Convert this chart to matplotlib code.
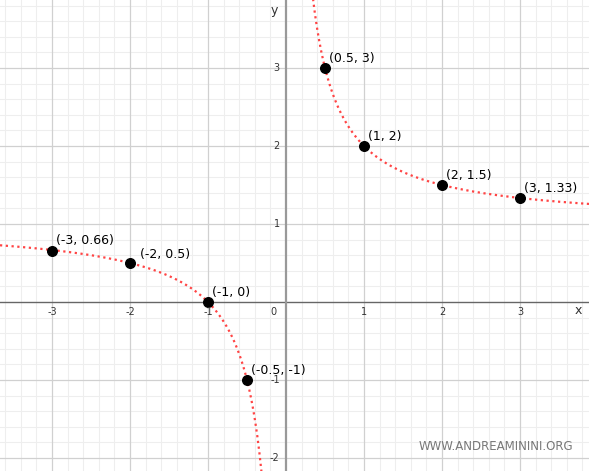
import numpy as np
import matplotlib
matplotlib.use("Agg")
import matplotlib.pyplot as plt

# Data: points of y = 1 + 1/x shown in the chart
px = [-3, -2, -1, -0.5, 0.5, 1, 2, 3]
py = [0.66, 0.5, 0, -1, 3, 2, 1.5, 1.33]
plabels = ["(-3, 0.66)", "(-2, 0.5)", "(-1, 0)", "(-0.5, -1)",
           "(0.5, 3)", "(1, 2)", "(2, 1.5)", "(3, 1.33)"]
xticks = [-3, -2, -1, 1, 2, 3]
yticks = [-2, -1, 1, 2, 3]

xmin, xmax = -286/78, (589-286)/78
ymin, ymax = -(471-302)/78, 302/78

fig = plt.figure(figsize=(5.89, 4.71), dpi=100)
ax = fig.add_axes([0, 0, 1, 1])
ax.set_xlim(xmin, xmax)
ax.set_ylim(ymin, ymax)
for s in ax.spines.values():
    s.set_visible(False)
ax.set_xticks([]); ax.set_yticks([])

# grid
for v in np.arange(-4, 4.01, 0.2):
    if abs(v - round(v)) < 1e-6:
        continue
    ax.axvline(v, color="#eeeeee", lw=0.8, zorder=0)
    ax.axhline(v, color="#eeeeee", lw=0.8, zorder=0)
for v in range(-4, 5):
    if v == 0:
        continue
    ax.axvline(v, color="#d0d0d0", lw=0.9, zorder=0)
    ax.axhline(v, color="#d0d0d0", lw=0.9, zorder=0)
ax.axhline(0, color="#666666", lw=1.0, zorder=1)
ax.axvline(0, color="#999999", lw=1.6, zorder=1)

# curve
def f(x):
    return 1 + 1 / x
xl = np.linspace(xmin, -0.3, 400)
xr = np.linspace(0.345, xmax, 400)
ax.plot(xl, f(xl), color="#ff4444", lw=1.6, ls=(0, (1, 1.6)), zorder=2)
ax.plot(xr, f(xr), color="#ff4444", lw=1.6, ls=(0, (1, 1.6)), zorder=2)

ax.scatter(px, py, s=48, color="black", zorder=3)
for x, y, t in zip(px, py, plabels):
    off = (7, 1.5) if t == "(-2, 0.5)" else (3, 2.5)
    ax.annotate(t, (x, y), xytext=off, textcoords="offset points",
                fontsize=9, color="black", ha="left", va="bottom", zorder=4)

for t in xticks:
    ax.text(t, -0.07, str(t), fontsize=7, color="#333333", ha="center", va="top")
for t in yticks:
    ax.text(-0.08, t, str(t), fontsize=7, color="#333333", ha="right", va="center")
ax.text(-0.12, -0.07, "0", fontsize=7, color="#333333", ha="right", va="top")
ax.text(-0.1, ymax - 0.13, "y", fontsize=9, color="#333333", ha="right", va="center")
ax.text(xmax - 0.14, -0.11, "x", fontsize=9, color="#333333", ha="center", va="center")

ax.text(0.974, 0.052, "WWW.ANDREAMININI.ORG", transform=ax.transAxes,
        fontsize=8.5, color="#777777", ha="right", va="center")

fig.savefig("out.png", dpi=100)
